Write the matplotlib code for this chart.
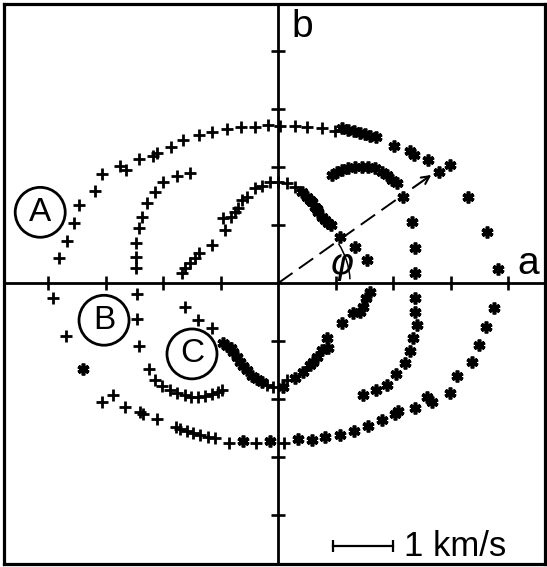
import numpy as np
import matplotlib.pyplot as plt
from matplotlib.patches import Ellipse, Arc

# velocity components (km/s) along a and b, three loops A, B, C
# "+" : first half of each loop, "*" : second half

a_plus_x = [-3.91, -3.70, -3.81, -3.67, -3.55, -3.46, -3.18, -3.06, -2.75, -2.64,
            -2.43, -2.17, -2.10, -1.86, -1.65, -1.37, -1.15, -0.89, -0.64, -0.40,
            -0.17, 0.03, 0.30, 0.50, 0.77, 0.99,
            0.10, -0.38, -0.85, -1.10, -1.23, -1.36, -1.48, -1.58, -1.70, -1.77,
            -2.10, -2.35, -2.40, -2.66, -2.87, -3.06]
a_plus_y = [-0.26, -0.91, 0.43, 0.72, 1.03, 1.34, 1.59, 1.88, 2.02, 1.95,
            2.14, 2.19, 2.24, 2.34, 2.47, 2.55, 2.60, 2.66, 2.69, 2.69,
            2.72, 2.71, 2.71, 2.69, 2.67, 2.62,
            -2.76, -2.76, -2.76, -2.67, -2.66, -2.62, -2.59, -2.55, -2.52, -2.48,
            -2.34, -2.26, -2.22, -2.14, -1.93, -2.05]

a_star_x = [1.11, 1.22, 1.32, 1.43, 1.51, 1.60, 1.70, 2.02, 2.30, 2.37,
            2.61, 2.80, 2.99, 3.30, 3.63, 3.83, 3.76, 3.62, 3.50, 3.37,
            3.11, 2.99, 2.59, 2.68, 2.38, 2.09, 2.03, 1.81, 1.57, 1.32,
            1.08, 0.82, 0.59, 0.35, -0.14, -0.61, -3.39]
a_star_y = [2.67, 2.64, 2.62, 2.59, 2.57, 2.53, 2.52, 2.36, 2.28, 2.21,
            2.12, 1.91, 2.03, 1.48, 0.88, 0.24, -0.43, -0.76, -1.07, -1.36,
            -1.60, -1.90, -1.97, -2.05, -2.16, -2.21, -2.26, -2.36, -2.47, -2.55,
            -2.62, -2.66, -2.71, -2.69, -2.72, -2.72, -1.48]

b_plus_x = [-2.47, -2.47, -2.47, -2.43, -2.37, -2.28, -2.14, -2.00, -1.76, -1.53,
            -2.45, -2.45, -2.43, -2.24, -2.14, -2.02, -1.88, -1.76, -1.63, -1.51,
            -1.39, -1.27, -1.15, -1.04, -0.97]
b_plus_y = [0.26, 0.45, 0.69, 0.95, 1.14, 1.38, 1.57, 1.74, 1.84, 1.90,
            -0.19, -0.62, -1.09, -1.48, -1.67, -1.78, -1.84, -1.90, -1.93, -1.97,
            -1.97, -1.95, -1.91, -1.88, -1.84]

b_star_x = [0.94, 1.03, 1.11, 1.22, 1.34, 1.46, 1.57, 1.69, 1.81, 1.90,
            1.98, 2.07, 2.17, 2.33, 2.38, 2.38, 2.38, 2.38, 2.42, 2.35,
            2.30, 2.21, 2.05, 1.90, 1.70, 1.48]
b_star_y = [1.86, 1.91, 1.95, 1.98, 2.00, 2.00, 2.00, 1.98, 1.91, 1.86,
            1.78, 1.72, 1.48, 1.05, 0.60, 0.17, -0.26, -0.50, -0.72, -0.95,
            -1.17, -1.38, -1.57, -1.76, -1.84, -1.93]

c_plus_x = [-1.67, -1.62, -1.53, -1.44, -1.37, -1.15, -0.92, -0.96, -0.83, -0.75,
            -0.70, -0.63, -0.54, -0.40, -0.28, -0.14, 0.00, 0.16, 0.30,
            -1.62, -1.39, -1.15, -0.19, -0.09, 0.16]
c_plus_y = [0.17, 0.26, 0.34, 0.43, 0.52, 0.66, 0.91, 1.12, 1.14, 1.22,
            1.29, 1.43, 1.48, 1.64, 1.67, 1.74, 1.74, 1.72, 1.66,
            -0.41, -0.64, -0.78, -1.76, -1.79, -1.67]

c_star_x = [0.42, 0.50, 0.55, 0.59, 0.64, 0.67, 0.70, 0.77, 0.82, 0.87,
            0.92, 1.08, 1.34, 1.55, 1.60, 1.53, 1.48, 1.43, 1.30, 1.11,
            0.85, 0.87, 0.77, 0.68, 0.61, 0.56, 0.43, 0.30, 0.09,
            -0.96, -0.89, -0.83, -0.78, -0.71, -0.66, -0.61, -0.54, -0.45, -0.37,
            -0.28]
c_star_y = [1.57, 1.48, 1.44, 1.40, 1.31, 1.27, 1.22, 1.14, 1.09, 1.03,
            1.00, 0.79, 0.62, 0.40, -0.16, -0.26, -0.41, -0.50, -0.52, -0.69,
            -0.95, -1.12, -1.16, -1.28, -1.36, -1.41, -1.53, -1.64, -1.79,
            -1.03, -1.09, -1.12, -1.19, -1.28, -1.36, -1.43, -1.50, -1.60, -1.66,
            -1.71]

ticks = [-4, -3, -2, -1, 1, 2, 3, 4]
loop_labels = ["A", "B", "C"]
label_x = [-4.14, -3.03, -1.50]
label_y = [1.22, -0.64, -1.22]

phi_deg = 35
arrow_len = 3.25

fig = plt.figure(figsize=(5.47, 5.67), dpi=100)
ax = fig.add_axes([0.0073, 0.0053, 0.989, 0.9877])
ax.set_xlim(-4.77, 4.64)
ax.set_ylim(-4.84, 4.81)
ax.set_xticks([])
ax.set_yticks([])
for s in ax.spines.values():
    s.set_linewidth(2.3)

# axes a and b with crossing tick marks
ax.axhline(0, color="black", lw=2.0)
ax.axvline(0, color="black", lw=2.0)
ax.plot(ticks, np.zeros(len(ticks)), ls="none", marker="|", ms=10, mew=1.9, color="black")
ax.plot(np.zeros(len(ticks)), ticks, ls="none", marker="_", ms=10, mew=1.9, color="black")

plus = dict(ls="none", marker="+", ms=8.5, mew=2.0, color="black")
star = dict(ls="none", marker=(6, 2, 0), ms=8.5, mew=2.6, color="black")
ax.plot(a_plus_x, a_plus_y, **plus)
ax.plot(b_plus_x, b_plus_y, **plus)
ax.plot(c_plus_x, c_plus_y, **plus)
ax.plot(a_star_x, a_star_y, **star)
ax.plot(b_star_x, b_star_y, **star)
ax.plot(c_star_x, c_star_y, **star)

# circled loop names
for name, lx, ly in zip(loop_labels, label_x, label_y):
    ax.add_patch(Ellipse((lx, ly), 0.87, 0.86, fill=False, lw=2.0, color="black"))
    ax.text(lx, ly, name, ha="center", va="center", fontsize=24,
            family="Liberation Sans")

# direction line at angle phi
phi = np.radians(phi_deg)
ex, ey = arrow_len * np.cos(phi), arrow_len * np.sin(phi)
ax.plot([0, 0.8 * ex], [0, 0.8 * ey], color="black", lw=1.4, dashes=(9, 4))
ax.annotate("", xy=(ex, ey), xytext=(0.88 * ex, 0.88 * ey),
            arrowprops=dict(arrowstyle="->", lw=1.5, color="black",
                            shrinkA=0, shrinkB=0, mutation_scale=14))
ax.add_patch(Arc((0, 0), 2.5, 2.5, theta1=3, theta2=phi_deg - 2, lw=1.1, color="black"))
ax.text(1.11, 0.30, r"$\varphi$", ha="center", va="center", fontsize=26)

ax.text(0.42, 4.41, "b", ha="center", va="center", fontsize=28, family="Liberation Sans")
ax.text(4.35, 0.33, "a", ha="center", va="center", fontsize=28, family="Liberation Sans")

# scale bar
ax.plot([0.96, 2.0], [-4.53, -4.53], color="black", lw=1.6)
ax.plot([0.96, 2.0], [-4.53, -4.53], ls="none", marker="|", ms=8, mew=1.6, color="black")
ax.text(2.18, -4.53, "1 km/s", ha="left", va="center", fontsize=25,
        family="Liberation Sans")

fig.savefig("out.png", dpi=100)
plt.close(fig)
